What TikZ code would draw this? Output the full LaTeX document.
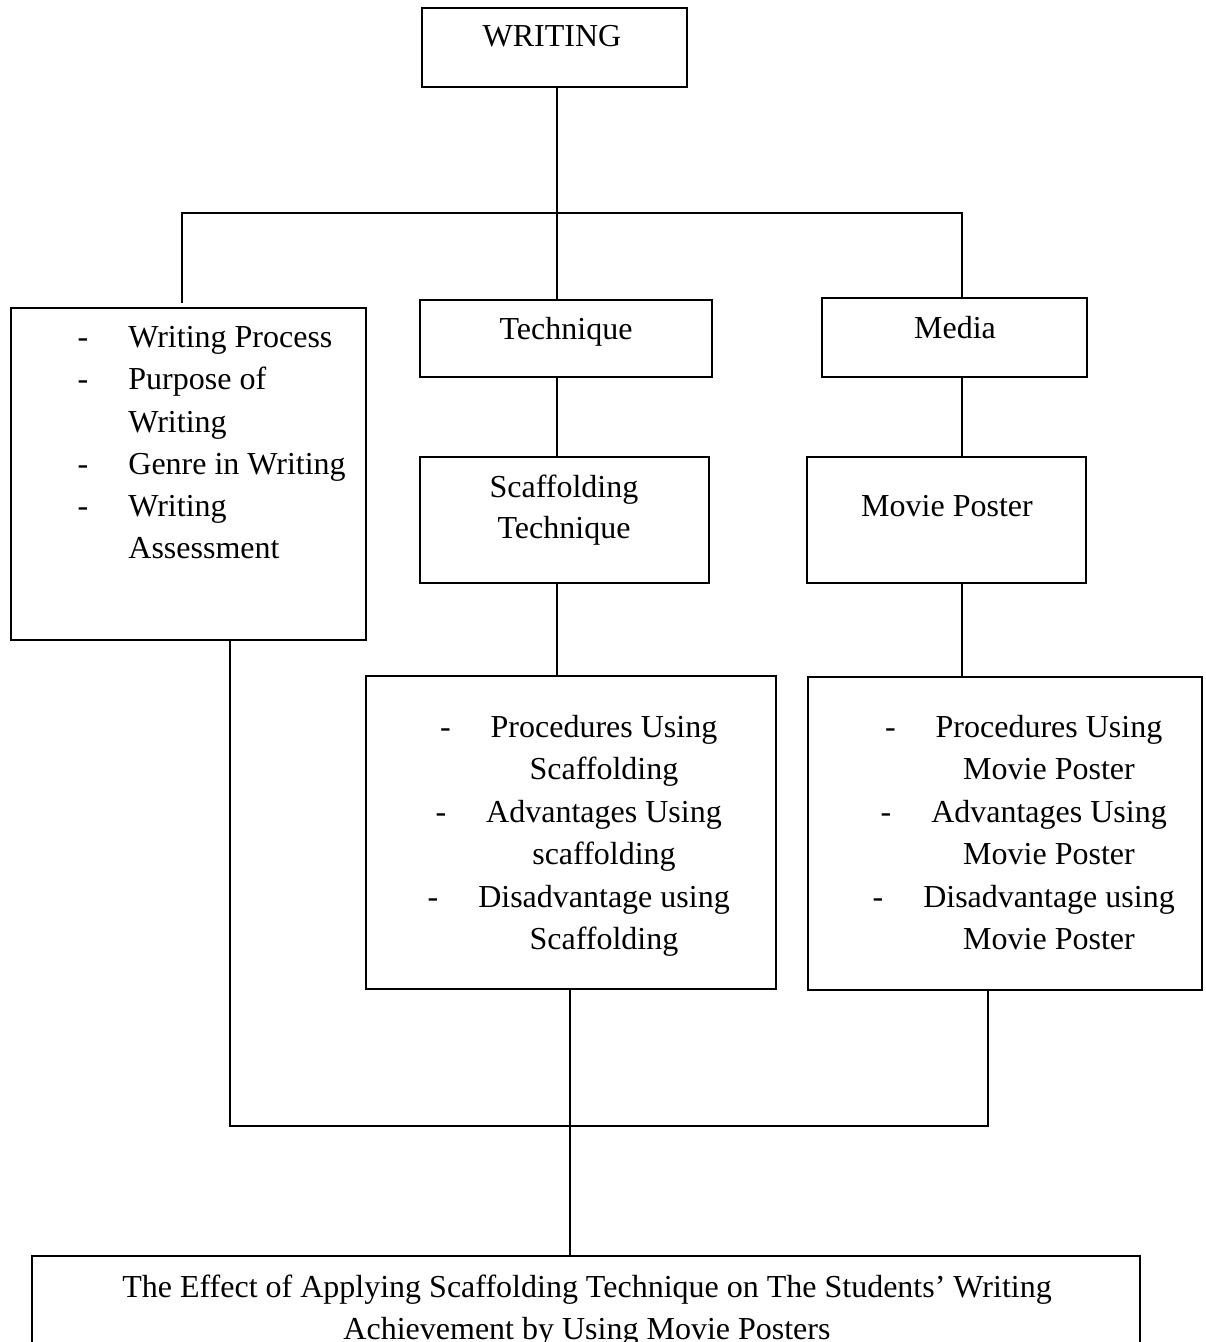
\documentclass[tikz,border=0pt]{standalone}
\usepackage{fontspec}
\setmainfont{Liberation Serif}
\usetikzlibrary{positioning,fit}

\newcommand{\itemdash}{\llap{-\hspace{20pt}}}

\begin{document}
\begin{tikzpicture}[x=0.5pt,y=-0.5pt]
    \tikzset{
        box/.style={draw, line width=0.7pt, inner sep=0pt},
        words/.style={font=\fontsize{16}{21}\selectfont, inner sep=0pt, anchor=base},
        link/.style={line width=0.9pt}
    }
    \useasboundingbox (0,0) rectangle (1205,1342);
    \clip (0,0) rectangle (1205,1342);

    % Boxes:
    \node[box, fit={(422,8) (687,87)}] (writing) {};
    \node[box, fit={(11,308) (366,640)}] (leftbox) {};
    \node[box, fit={(420,300) (712,377)}] (technique) {};
    \node[box, fit={(822,298) (1087,377)}] (media) {};
    \node[box, fit={(420,457) (709,583)}] (scaff) {};
    \node[box, fit={(807,457) (1086,583)}] (movie) {};
    \node[box, fit={(366,676) (776,989)}] (proc) {};
    \node[box, fit={(808,677) (1202,990)}] (procmp) {};
    \node[box, fit={(32,1256) (1140,1420)}] (result) {};

    % Texts:
    \node[words] (writing-t) at (552,47) {WRITING};
    \node[words] (technique-t) at (566,340) {Technique};
    \node[words] (media-t) at (955,338) {Media};
    \node[words] (scaff-t1) at (564,497) {Scaffolding};
    \node[words] (scaff-t2) at (564,538) {Technique};
    \node[words] (movie-t) at (947,516) {Movie Poster};

    % list in the left box
    \foreach \n/\y/\txt in {1/347/{\itemdash Writing Process}, 2/389/{\itemdash Purpose of},
                            3/432/{Writing}, 4/474/{\itemdash Genre in Writing},
                            5/516/{\itemdash Writing}, 6/558/{Assessment}}
    \node[words, anchor=base west] (left-\n) at (128,\y) {\txt};

    % lists in the two lower boxes
    \foreach \n/\y/\txt in {1/737/{\itemdash Procedures Using}, 2/779/{Scaffolding},
                            3/822/{\itemdash Advantages Using}, 4/864/{scaffolding},
                            5/907/{\itemdash Disadvantage using}, 6/949/{Scaffolding}}
    \node[words] (proc-\n) at (604,\y) {\txt};
    \foreach \n/\y/\txt in {1/737/{\itemdash Procedures Using}, 2/779/{Movie Poster},
                            3/822/{\itemdash Advantages Using}, 4/864/{Movie Poster},
                            5/907/{\itemdash Disadvantage using}, 6/949/{Movie Poster}}
    \node[words] (procmp-\n) at (1049,\y) {\txt};

    \node[words] (result-t1) at (587,1297) {The Effect of Applying Scaffolding Technique on The Students’ Writing};
    \node[words] (result-t2) at (587,1339) {Achievement by Using Movie Posters};

    % Connectors:
    \coordinate (hub) at (557,213);
    \coordinate (hubL) at (182,213);
    \coordinate (hubR) at (962,213);
    \coordinate (stubL) at (182,303);
    \draw[link] (hub |- writing.south) -- (hub |- technique.north);
    \draw[link] (stubL) -- (hubL) -- (hubR) -- (hubR |- media.north);
    \draw[link] (hub |- technique.south) -- (hub |- scaff.north);
    \draw[link] (hub |- scaff.south) -- (hub |- proc.north);
    \draw[link] (hubR |- media.south) -- (hubR |- movie.north);
    \draw[link] (hubR |- movie.south) -- (hubR |- procmp.north);

    \coordinate (joinL) at (230,1126);
    \coordinate (joinR) at (988,1126);
    \coordinate (joinC) at (570,1126);
    \draw[link] (joinL |- leftbox.south) -- (joinL) -- (joinR) -- (joinR |- procmp.south);
    \draw[link] (joinC |- proc.south) -- (joinC |- result.north);
\end{tikzpicture}
\end{document}
